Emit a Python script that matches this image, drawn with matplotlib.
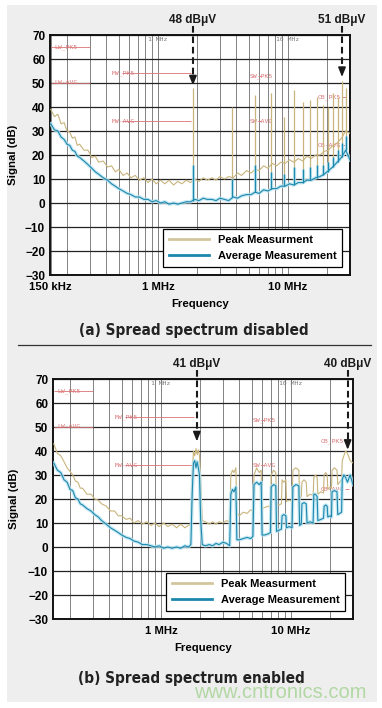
import matplotlib
matplotlib.use("Agg")
import matplotlib.pyplot as plt
from matplotlib.patches import Rectangle
from matplotlib.lines import Line2D
from matplotlib.ticker import LogLocator, FixedLocator, NullFormatter

plt.rcParams['font.family'] = ['Liberation Sans', 'DejaVu Sans']

# ---- (a) spread spectrum disabled : frequency in MHz, levels in dB ----
a_freq = [0.15, 0.16, 0.17, 0.18, 0.19, 0.20, 0.21, 0.22, 0.23, 0.24,
          0.25, 0.27, 0.29, 0.31, 0.33, 0.35, 0.38, 0.41, 0.44, 0.47,
          0.50, 0.54, 0.58, 0.62, 0.67, 0.72, 0.78, 0.84, 0.90, 0.97,
          1.05, 1.13, 1.22, 1.32, 1.42, 1.53, 1.65, 1.78, 1.92, 2.07,
          2.23, 2.4, 2.6, 2.8, 3.0, 3.25, 3.5, 3.8, 4.1, 4.4,
          4.8, 5.2, 5.6, 6.0, 6.5, 7.0, 7.6, 8.2, 8.8, 9.5,
          10.3, 11.1, 12.0, 13.0, 14.0, 15.1, 16.3, 17.6, 19.0, 20.5,
          22.1, 23.9, 25.8, 27.8, 30.0]
a_peak = [39, 36, 37, 33, 33.5, 30, 29.5, 27, 27.5, 24,
          24.5, 22, 22, 19, 19.5, 17, 17.5, 15, 15.5, 13,
          14, 11.5, 12.5, 10.5, 11.5, 9.5, 10.5, 8.5, 10, 8,
          9.5, 8, 9.5, 7.5, 9, 8, 9.5, 8.5, 10, 9,
          10.5, 9.5, 10.5, 9.5, 11, 10, 11, 10.5, 12.5, 11.5,
          13.5, 12.5, 14, 13.5, 15.5, 14.5, 16.5, 15.5, 17, 16.5,
          18, 17, 18.5, 17.5, 19.5, 18.5, 20, 20, 21.5, 22,
          24, 25, 27, 30, 29]
a_avg = [33, 30.5, 30, 27.5, 26.5, 24.5, 24, 22, 21.5, 19.5,
         19, 17.5, 16, 14.5, 13, 12, 10.5, 9.5, 8, 7,
         6, 5, 4, 3.5, 2.5, 2.5, 1.5, 1.5, 0.5, 1,
         0, 0.5, -0.5, 0, -0.5, 0, 0.5, 0.5, 1.5, 1,
         2, 1.5, 1.5, 1, 2, 1.5, 1, 2.5, 2, 3,
         3.5, 3.5, 4.5, 4, 5.5, 5, 6, 6, 7, 7,
         8, 7.5, 8.5, 8.5, 9.5, 9.5, 10.5, 11, 12, 13.5,
         15, 17, 19, 22, 18]

# switching harmonics (narrow spikes)
a_spike_f = [1.86, 3.72, 5.58, 7.44, 9.30, 11.16, 13.02, 14.88,
             16.74, 18.60, 20.46, 22.32, 24.18, 26.04, 27.90]
a_spike_pk = [48, 40, 45, 46, 36, 47, 42, 43, 44, 41, 40, 46, 44, 51, 48]
a_spike_avg = [16, 10, 16, 13, 12, 15, 14, 15, 16, 16, 17, 19, 22, 25, 28]
a_spike_base = [1, 2.5, 4.5, 6, 7, 7.5, 8.5, 9.5, 10.5, 11.5, 13, 15, 17, 19, 22]

# ---- (b) spread spectrum enabled ----
b_freq = [0.15, 0.16, 0.17, 0.18, 0.19, 0.20, 0.21, 0.22, 0.23, 0.24,
          0.25, 0.27, 0.29, 0.31, 0.33, 0.35, 0.38, 0.41, 0.44, 0.47,
          0.50, 0.54, 0.58, 0.62, 0.67, 0.72, 0.78, 0.84, 0.90, 0.97,
          1.05, 1.13, 1.22, 1.32, 1.42, 1.53, 1.63, 1.70, 1.74, 1.78,
          1.82, 1.86, 1.90, 1.94, 1.98, 2.02, 2.08, 2.2, 2.35, 2.5,
          2.65, 2.8, 3.0, 3.2, 3.38, 3.45, 3.55, 3.65, 3.77, 3.84,
          4.0, 4.3, 4.6, 4.9, 5.1, 5.2, 5.45, 5.7, 5.9, 6.0,
          6.3, 6.7, 6.95, 7.05, 7.35, 7.65, 7.75, 8.1, 8.45, 8.55,
          8.8, 9.15, 9.25, 9.7, 10.2, 10.35, 10.9, 11.5, 11.65, 12.0,
          12.15, 12.6, 13.1, 13.3, 14.0, 14.8, 15.0, 15.4, 15.9, 16.1,
          17.0, 17.8, 18.0, 18.5, 19.0, 19.2, 20.0, 20.5, 20.7, 21.6,
          22.6, 22.9, 23.7, 24.5, 24.8, 25.5, 26.3, 27.2, 28.5, 30.0]
b_peak = [43, 39, 38, 35.5, 33, 31.5, 30, 27.5, 27, 24.5,
          24.5, 22, 22, 20, 19.5, 18, 17, 15, 15, 13,
          13, 11.5, 12, 10, 11, 9.5, 10.5, 9, 10, 8.5,
          10, 8.5, 9.5, 8, 9.5, 8, 9, 9.5, 30, 40,
          38, 41, 38.5, 40.5, 38, 29, 11, 10.5, 9.5, 10.5,
          9.5, 10.5, 10, 11, 10.5, 30, 32, 31, 33, 14,
          13, 14.5, 14, 15.5, 15, 30, 33, 31, 32, 16,
          16.5, 17, 16.5, 30, 32, 31, 18, 17.5, 18, 28,
          27, 28, 19, 19.5, 19, 32, 33, 32, 20, 21,
          27, 28, 27, 21, 22, 21.5, 29, 30, 29, 22,
          23, 22.5, 30, 31, 30, 24, 25, 24.5, 32, 33,
          32, 26, 27, 28, 36, 38, 40, 39, 36, 35]
b_avg = [35, 32, 31, 28, 27, 24, 23.5, 20.5, 20, 18,
         17.5, 16, 15, 13.5, 12.5, 11, 9.5, 8, 7, 6,
         5, 4, 3.5, 2.5, 2, 1, 1, 0.5, 0, 0.5,
         -0.5, 0, -0.5, 0, -0.5, 0.5, 0, 1, 22, 35,
         36, 33, 35.5, 33, 30, 12, 1, 0.5, 1, 0.5,
         1.5, 1, 2, 1.5, 0.5, 22, 24, 23, 25, 3,
         3, 3.5, 4, 3.5, 4.5, 26, 27, 26, 27, 5,
         5, 5.5, 6, 25, 26, 25.5, 6.5, 7, 7.5, 13,
         13.5, 13, 8, 8.5, 8, 25, 26, 25.5, 9, 9.5,
         18, 18.5, 18, 10, 10.5, 10, 22, 22, 21, 11,
         11.5, 12, 17, 17.5, 17, 12.5, 13, 12.5, 23, 23.5,
         23, 13.5, 14, 14.5, 28, 30, 29, 27, 30, 26]

# ---- CISPR 25 limit lines drawn by the analyzer ----
lim_labels = ["LW_PK5", "LW-AVG", "MW_PK5", "MW-AVG", "SW_PK5", "SW-AVG", "CB_PK5", "CB-AVG"]
lim_db = [65, 50, 54, 34, 53, 34, 44, 24]
lim_start = [0.15, 0.15, 0.53, 0.53, 5.9, 5.9, 26, 26]
lim_stop = [0.30, 0.30, 1.8, 1.8, 6.2, 6.2, 28, 28]
lim_text_f = [0.16, 0.16, 0.44, 0.44, 5.1, 5.1, 17.0, 17.0]

# ---- callouts ----
a_call_text = ["48 dBμV", "51 dBμV"]
a_call_f = [1.86, 26.04]
a_call_tip = [49, 52.5]
b_call_text = ["41 dBμV", "40 dBμV"]
b_call_f = [1.89, 27.3]
b_call_tip = [44, 40.5]

PEAK = '#c8b47c'
AVG = '#1d88ad'
HALO = '#b8e4f2'
RED = '#dc7476'
CAPTION_FONT = dict(family='DejaVu Sans', fontstretch='condensed',
                    fontweight='bold', fontsize=11)


def draw_panel(ax, freq, peak, avg, call_text, call_f, call_tip,
               xticks, xticklabels, ylab_x, spikes=None):
    ax.set_xscale('log')
    ax.set_xlim(0.148, 30)
    ax.set_ylim(-30, 70)
    ax.set_yticks(range(-30, 71, 10))
    ax.set_yticklabels([f"{v}".replace('-', '\u2212') for v in range(-30, 71, 10)],
                       fontweight='bold', fontsize=8.5)
    ax.xaxis.set_major_locator(FixedLocator(xticks))
    ax.set_xticklabels(xticklabels, fontweight='bold', fontsize=8.2)
    ax.xaxis.set_minor_locator(LogLocator(base=10, subs=[2, 3, 4, 5, 6, 7, 8, 9]))
    ax.xaxis.set_minor_formatter(NullFormatter())
    ax.tick_params(which='both', length=0)
    ax.tick_params(axis='y', pad=3.5)
    ax.tick_params(axis='x', pad=5)

    ax.grid(which='both', axis='x', color='#6e6e6e', lw=0.6)
    ax.grid(which='major', axis='y', color='#222222', lw=0.9)
    ax.set_axisbelow(True)
    for s in ax.spines.values():
        s.set_linewidth(1.4)
        s.set_color('#111111')

    # limit lines
    ax.hlines(lim_db, lim_start, lim_stop, color=RED, lw=0.6, zorder=2)
    for lab, db, ft in zip(lim_labels, lim_db, lim_text_f):
        ax.text(ft, db, lab, family='DejaVu Sans Mono', fontsize=4.6, color=RED,
                va='center', ha='left', zorder=2)
    ax.text(0.84, 68.3, "1 MHz", family='DejaVu Sans Mono', fontsize=4.6,
            color='#777777', va='center')
    ax.text(8.1, 68.3, "10 MHz", family='DejaVu Sans Mono', fontsize=4.6,
            color='#777777', va='center')

    # traces
    ax.plot(freq, peak, color=PEAK, lw=0.8, zorder=3)
    if spikes is not None:
        sf, spk, savg, sbase = spikes
        ax.vlines(sf, sbase, spk, color=PEAK, lw=0.9, zorder=3)
    ax.plot(freq, avg, color=HALO, lw=2.6, alpha=0.8, zorder=4)
    ax.plot(freq, avg, color=AVG, lw=0.8, zorder=5)
    if spikes is not None:
        ax.vlines(sf, sbase, savg, color=HALO, lw=2.4, alpha=0.8, zorder=4)
        ax.vlines(sf, sbase, savg, color=AVG, lw=0.9, zorder=5)

    # callout arrows
    for txt, f, tip in zip(call_text, call_f, call_tip):
        ax.plot([f, f], [73.8, tip + 3.2], color='#1a1a1a', lw=1.5,
                ls=(0, (3.2, 1.8)), clip_on=False, zorder=6)
        ax.annotate('', xy=(f, tip), xytext=(f, tip + 3.6),
                    arrowprops=dict(arrowstyle='-|>,head_length=0.55,head_width=0.22',
                                    color='#1a1a1a', lw=1.2, shrinkA=0, shrinkB=0),
                    zorder=6)
        ax.text(f, 76.3, txt, ha='center', va='center', fontsize=8.5,
                fontweight='bold', color='#1a1a1a', clip_on=False)

    ax.set_ylabel("Signal (dB)", fontweight='bold', fontsize=8.2)
    ax.yaxis.set_label_coords(ylab_x, 0.5)
    ax.set_xlabel("Frequency", fontweight='bold', fontsize=8.2)
    ax.xaxis.set_label_coords(0.5, -0.10)

    handles = [Line2D([], [], color='#d3c69c', lw=2),
               Line2D([], [], color=AVG, lw=2)]
    leg = ax.legend(handles, ["Peak Measurment", "Average Measurement"],
                    loc='lower right', bbox_to_anchor=(0.973, 0.035),
                    frameon=True, fancybox=False, edgecolor='black', framealpha=1,
                    prop={'weight': 'bold', 'size': 8}, handlelength=3.6,
                    handletextpad=0.8, borderpad=0.5, labelspacing=0.55,
                    borderaxespad=0)
    leg.get_frame().set_linewidth(0.9)
    leg.set_zorder(10)


fig = plt.figure(figsize=(3.82, 7.08), dpi=100)
W, H = 382, 708
fig.patches.append(Rectangle((7 / W, 1 - 702 / H), 370 / W, 697 / H,
                             transform=fig.transFigure, facecolor='#eeeeee',
                             edgecolor='none', zorder=-5))

ax1 = fig.add_axes([50 / W, 1 - 275 / H, 300 / W, 240 / H])
draw_panel(ax1, a_freq, a_peak, a_avg, a_call_text, a_call_f, a_call_tip,
           [0.15, 1, 10], ["150 kHz", "1 MHz", "10 MHz"], -0.105,
           spikes=(a_spike_f, a_spike_pk, a_spike_avg, a_spike_base))

ax2 = fig.add_axes([53 / W, 1 - 619 / H, 300 / W, 240 / H])
draw_panel(ax2, b_freq, b_peak, b_avg, b_call_text, b_call_f, b_call_tip,
           [1, 10], ["1 MHz", "10 MHz"], -0.112)

fig.text(194 / W, 1 - 330 / H, "(a) Spread spectrum disabled",
         ha='center', va='center', color='#222222', **CAPTION_FONT)
fig.text(191 / W, 1 - 678 / H, "(b) Spread spectrum enabled",
         ha='center', va='center', color='#222222', **CAPTION_FONT)
fig.add_artist(Line2D([18 / W, 371 / W], [1 - 345 / H, 1 - 345 / H],
                      transform=fig.transFigure, color='#333333', lw=0.9))
fig.text(280 / W, 1 - 693 / H, "www.cntronics.com", fontsize=14.5,
         color='#b2d8a4', ha='center', va='center')

fig.savefig("out.png", dpi=100)
